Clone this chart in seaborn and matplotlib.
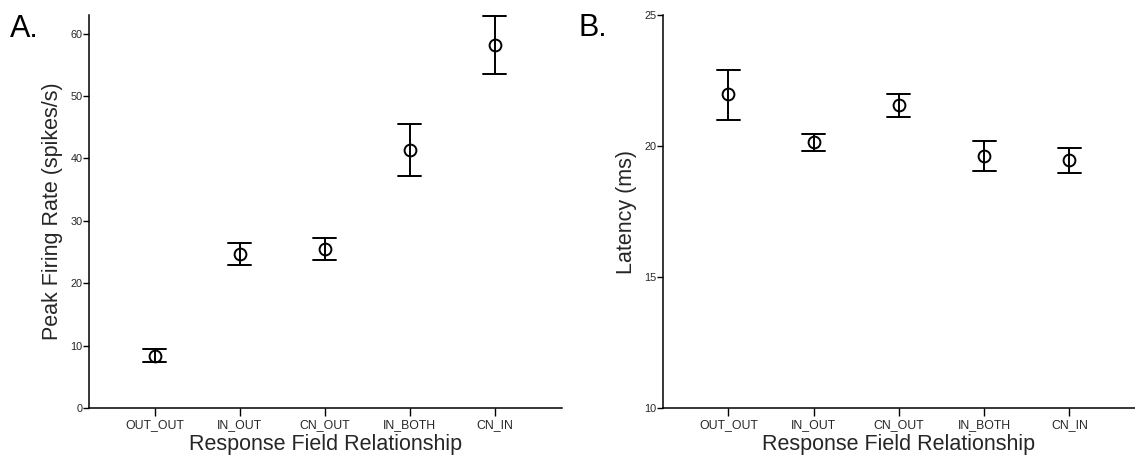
import numpy as np
import pandas as pd
import matplotlib
matplotlib.use("Agg")
import matplotlib.pyplot as plt
import seaborn as sns

# ---- data ----
categories = ["OUT_OUT", "IN_OUT", "CN_OUT", "IN_BOTH", "CN_IN"]

rate_mean = [8.4, 24.7, 25.5, 41.3, 58.2]
rate_low = [7.3, 22.9, 23.7, 37.2, 53.6]
rate_high = [9.4, 26.4, 27.3, 45.5, 62.8]

lat_mean = [22.0, 20.15, 21.55, 19.6, 19.45]
lat_low = [21.0, 19.8, 21.1, 19.05, 18.98]
lat_high = [22.9, 20.45, 22.0, 20.2, 19.92]

rate_ticks = [0, 10, 20, 30, 40, 50, 60]
lat_ticks = [10, 15, 20, 25]


def long_table(means, lows, highs):
    rows = []
    for c, m, lo, hi in zip(categories, means, lows, highs):
        for v in (lo, m, hi):
            rows.append({"cat": c, "val": v})
    return pd.DataFrame(rows)


sns.set_style("ticks")
plt.rcParams["font.family"] = ["Liberation Sans", "DejaVu Sans"]
text_color = "#262626"

fig = plt.figure(figsize=(11.35, 4.58), dpi=100)
axA = fig.add_axes([0.0781, 0.1092, 0.4170, 0.858])
axB = fig.add_axes([0.5839, 0.1092, 0.4161, 0.858])

panels = [
    (axA, long_table(rate_mean, rate_low, rate_high), (0, 63), rate_ticks,
     (-0.78, 4.79), "Peak Firing Rate (spikes/s)"),
    (axB, long_table(lat_mean, lat_low, lat_high), (10, 25), lat_ticks,
     (-0.77, 4.77), "Latency (ms)"),
]

for ax, df, ylim, yticks, xlim, ylabel in panels:
    sns.pointplot(
        data=df, x="cat", y="val", order=categories, ax=ax,
        estimator="median", errorbar=lambda v: (v.min(), v.max()),
        color="black", linestyle="none", marker="o",
        markersize=8.5, markerfacecolor="none", markeredgewidth=1.4,
        capsize=0.27, err_kws={"linewidth": 1.4},
    )
    ax.set_ylim(*ylim)
    ax.set_xlim(*xlim)
    ax.set_yticks(yticks)
    ax.set_xlabel("Response Field Relationship", fontsize=15.5,
                  color=text_color, labelpad=2)
    ax.set_ylabel(ylabel, fontsize=15.5, color=text_color, labelpad=5)
    for side in ("top", "right"):
        ax.spines[side].set_visible(False)
    for side in ("left", "bottom"):
        ax.spines[side].set_linewidth(1.1)
        ax.spines[side].set_color("black")
    ax.tick_params(axis="x", length=5.5, width=1.0, pad=2.5,
                   labelsize=8.8, labelcolor=text_color, color="black")
    ax.tick_params(axis="y", length=4, width=1.0, pad=0.5,
                   labelsize=7.8, labelcolor=text_color, color="black")

fig.text(0.009, 1 - 37 / 458, "A.", fontsize=22, color="black", va="baseline")
fig.text(0.510, 1 - 36 / 458, "B.", fontsize=22, color="black", va="baseline")

fig.savefig("out.png", dpi=100)
